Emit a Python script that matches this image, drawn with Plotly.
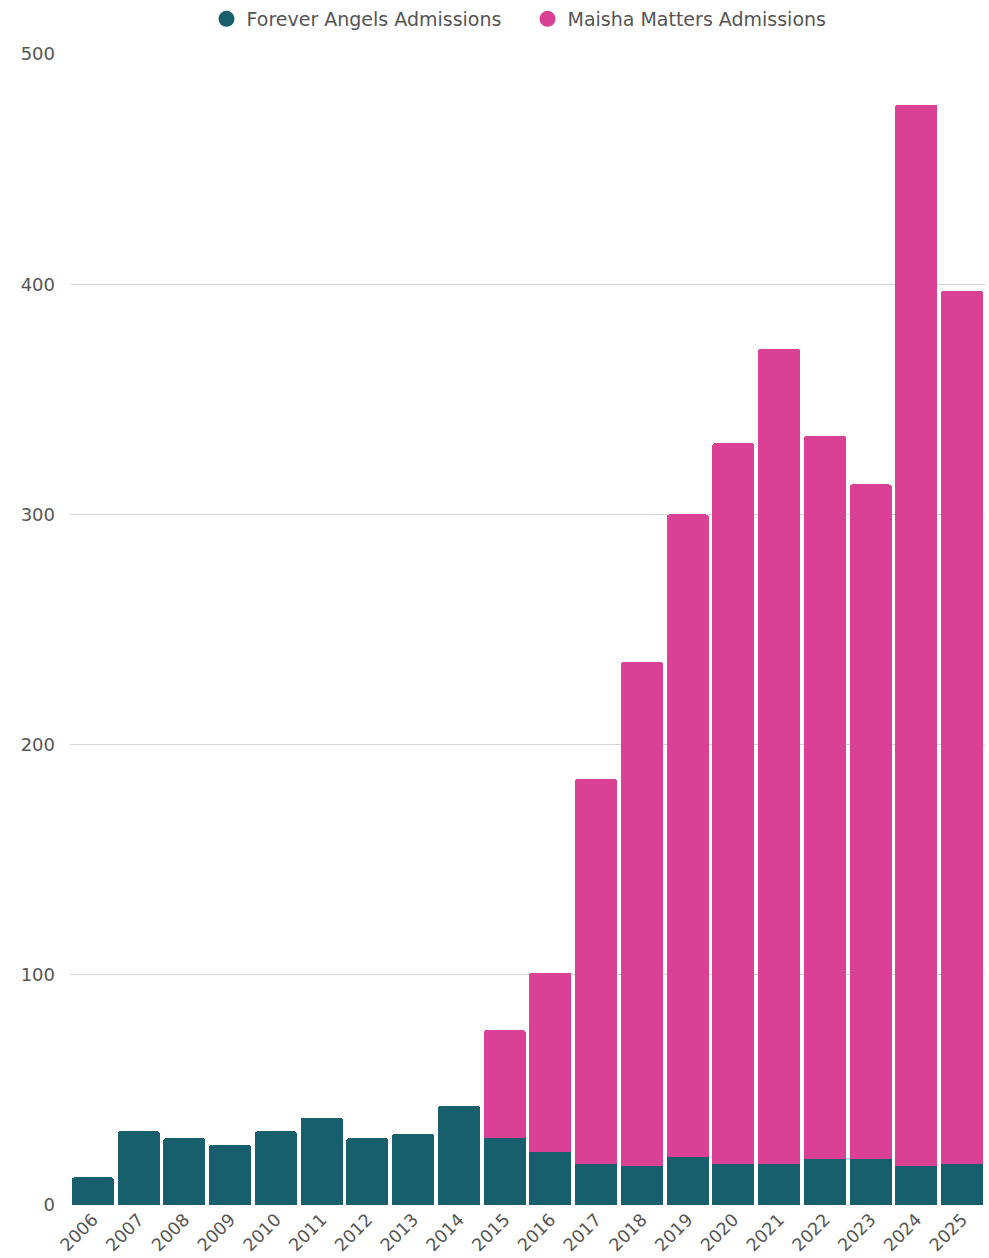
import plotly.graph_objects as go

years = [str(y) for y in range(2006, 2026)]
forever_angels = [12, 32, 29, 26, 32, 38, 29, 31, 43, 29, 23, 18, 17, 21, 18, 18, 20, 20, 17, 18]
maisha_matters = [0, 0, 0, 0, 0, 0, 0, 0, 0, 47, 78, 167, 219, 279, 313, 354, 314, 293, 461, 379]
y_ticks = [0, 100, 200, 300, 400, 500]

TEAL = "#175f6c"
PINK = "#da4194"
FONT = "DejaVu Sans"

fig = go.Figure()
fig.add_trace(go.Bar(x=years, y=forever_angels, name="Forever Angels Admissions",
                     marker=dict(color=TEAL, line=dict(width=0)), showlegend=False))
fig.add_trace(go.Bar(x=years, y=[v if v else None for v in maisha_matters],
                     name="Maisha Matters Admissions",
                     marker=dict(color=PINK, line=dict(width=0)), showlegend=False))
# legend entries with circle markers
fig.add_trace(go.Scatter(x=[None], y=[None], mode="markers", name="Forever Angels Admissions",
                         marker=dict(color=TEAL, size=18, symbol="circle")))
fig.add_trace(go.Scatter(x=[None], y=[None], mode="markers", name="Maisha Matters Admissions",
                         marker=dict(color=PINK, size=18, symbol="circle")))

fig.update_layout(
    width=989, height=1258,
    margin=dict(l=70, r=4, t=54, b=53),
    paper_bgcolor="white", plot_bgcolor="white",
    barmode="stack", bargap=0.08, barcornerradius=3,
    font=dict(family=FONT, color="#555555", size=18),
    legend=dict(orientation="h", x=0.5, xanchor="center", y=1.0, yanchor="top",
                yref="container", font=dict(size=19, color="#555555"),
                itemwidth=30, entrywidth=276, traceorder="normal"),
    xaxis=dict(type="category", tickangle=-45, tickfont=dict(size=17.5, color="#555555"),
               showgrid=False, showline=False, ticks="", automargin=False),
    yaxis=dict(range=[0, 500], tickvals=y_ticks, showgrid=True, gridcolor="#d4d4d4",
               gridwidth=1, zeroline=False, showline=False, ticks="",
               tickfont=dict(size=18, color="#555555"), ticklabelstandoff=14,
               automargin=False),
)

fig.write_html("out.html")
